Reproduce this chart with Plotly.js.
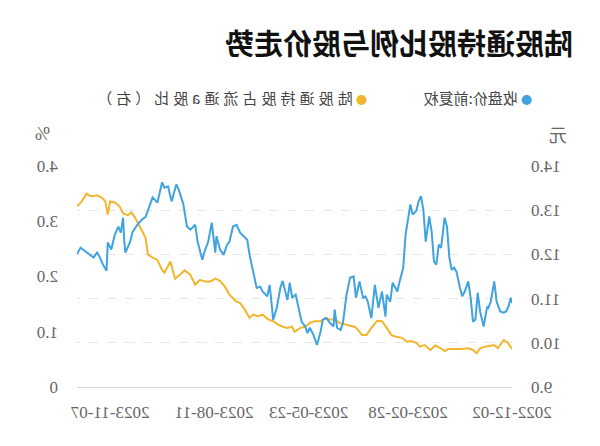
<!DOCTYPE html>
<html>
<head>
<meta charset="utf-8">
<script src="https://cdn.plot.ly/plotly-3.0.1.min.js"></script>
<style>
html,body{margin:0;padding:0;background:#fff;overflow:hidden;}
#chart{width:600px;height:446px;transform:scaleX(-1);transform-origin:50% 50%;}
</style>
</head>
<body>
<div id="chart"></div>
<script>
var titleText = '陆股通持股比例与股价走势';
var priceName = '收盘价:前复权';
var holdName = '陆股通持股占流通a股比（右）';
var priceUnit = '元';
var holdUnit = '%';

var tickDates = ['2022-12-02','2023-02-28','2023-05-23','2023-08-11','2023-11-07'];
var priceTicks = [9,10,11,12,13,14];
var priceTickText = ['9.0','10.0','11.0','12.0','13.0','14.0'];
var holdTicks = [0,1,2,3,4];
var holdTickText = ['0','1.0','2.0','3.0','4.0'];

var priceDates = ['2022-12-02','2022-12-03','2022-12-05','2022-12-07','2022-12-09','2022-12-12','2022-12-15','2022-12-17','2022-12-20','2022-12-22','2022-12-23','2022-12-26','2022-12-29','2022-12-31',
'2023-01-02','2023-01-04','2023-01-06','2023-01-08','2023-01-11','2023-01-13','2023-01-15','2023-01-18','2023-01-20','2023-01-22','2023-01-24','2023-01-26','2023-01-28','2023-01-31',
'2023-02-02','2023-02-04','2023-02-06','2023-02-08','2023-02-10','2023-02-13','2023-02-15','2023-02-17','2023-02-19','2023-02-21','2023-02-24','2023-02-26',
'2023-03-02','2023-03-04','2023-03-07','2023-03-09','2023-03-13','2023-03-15','2023-03-18','2023-03-19','2023-03-22','2023-03-25','2023-03-28','2023-03-31',
'2023-04-03','2023-04-05','2023-04-07','2023-04-10','2023-04-13','2023-04-15','2023-04-18','2023-04-21','2023-04-24','2023-04-26','2023-04-29',
'2023-05-01','2023-05-02','2023-05-05','2023-05-08','2023-05-11','2023-05-13','2023-05-16','2023-05-19','2023-05-22','2023-05-24','2023-05-26','2023-05-29',
'2023-06-01','2023-06-03','2023-06-06','2023-06-08','2023-06-10','2023-06-12','2023-06-14','2023-06-16','2023-06-19','2023-06-22','2023-06-25','2023-06-27',
'2023-07-01','2023-07-03','2023-07-06','2023-07-09','2023-07-12','2023-07-14','2023-07-18','2023-07-20','2023-07-23','2023-07-26','2023-07-29','2023-07-31',
'2023-08-03','2023-08-06','2023-08-09','2023-08-10','2023-08-13','2023-08-16','2023-08-19','2023-08-21','2023-08-25','2023-08-27','2023-08-31',
'2023-09-03','2023-09-06','2023-09-10','2023-09-12','2023-09-16','2023-09-19','2023-09-22','2023-09-24','2023-09-28',
'2023-10-02','2023-10-04','2023-10-08','2023-10-11','2023-10-15','2023-10-19','2023-10-21','2023-10-25','2023-10-26','2023-10-27','2023-10-29','2023-10-31',
'2023-11-03','2023-11-06','2023-11-09','2023-11-10','2023-11-13','2023-11-16','2023-11-18','2023-11-21','2023-11-24','2023-11-27','2023-11-30','2023-12-02','2023-12-05'];
var priceValues = [10.90,11.02,10.82,10.71,10.68,10.71,10.93,11.39,10.93,10.79,10.82,10.37,10.71,11.13,
10.52,10.48,11.02,11.39,11.16,11.05,11.24,11.61,11.70,11.65,11.93,12.63,12.83,12.15,
12.22,11.77,11.84,12.52,12.86,12.29,13.01,13.32,13.20,12.98,12.90,13.13,
12.45,11.70,11.39,11.16,11.36,10.93,11.09,10.59,11.16,10.79,11.31,10.56,
10.93,11.05,11.02,11.39,11.02,11.50,11.47,11.09,10.45,10.29,10.34,
10.75,10.37,10.45,10.56,10.52,10.25,9.95,10.18,10.34,10.22,10.37,10.48,
10.86,11.09,11.02,11.36,10.97,11.16,11.40,11.24,10.79,10.52,11.31,11.05,
11.16,11.27,11.24,11.61,11.99,12.33,12.45,12.49,12.67,12.63,12.29,12.22,
11.99,12.11,12.41,12.04,12.72,12.29,12.07,11.88,12.29,12.67,12.56,
12.63,13.13,13.47,13.58,13.20,13.54,13.51,13.63,13.17,
13.29,13.13,12.85,12.79,12.67,12.51,12.29,12.04,12.29,12.83,12.49,12.63,
12.45,12.11,12.27,11.63,11.77,11.95,12.04,11.93,11.99,12.06,12.11,12.15,12.01];

var holdDates = ['2022-12-02','2022-12-04','2022-12-06','2022-12-09','2022-12-11','2022-12-14','2022-12-17','2022-12-21','2022-12-25','2022-12-29',
'2023-01-01','2023-01-04','2023-01-08','2023-01-14','2023-01-19','2023-01-25','2023-01-28',
'2023-02-01','2023-02-05','2023-02-09','2023-02-14','2023-02-18','2023-02-21','2023-02-25',
'2023-03-01','2023-03-05','2023-03-10','2023-03-14','2023-03-18','2023-03-22','2023-03-26','2023-03-31',
'2023-04-04','2023-04-08','2023-04-11','2023-04-14','2023-04-18','2023-04-22','2023-04-27',
'2023-05-01','2023-05-05','2023-05-09','2023-05-13','2023-05-18','2023-05-22','2023-05-26','2023-05-30',
'2023-06-04','2023-06-06','2023-06-10','2023-06-14','2023-06-18','2023-06-22','2023-06-26',
'2023-07-01','2023-07-05','2023-07-09','2023-07-12','2023-07-16','2023-07-20','2023-07-24','2023-07-29',
'2023-08-02','2023-08-06','2023-08-10','2023-08-14','2023-08-19','2023-08-23','2023-08-27','2023-08-31',
'2023-09-05','2023-09-09','2023-09-13','2023-09-17','2023-09-22','2023-09-24','2023-09-28',
'2023-10-02','2023-10-06','2023-10-08','2023-10-13','2023-10-17','2023-10-20','2023-10-23','2023-10-27','2023-10-30',
'2023-11-03','2023-11-07','2023-11-09','2023-11-11','2023-11-14','2023-11-18','2023-11-23','2023-11-27','2023-12-01','2023-12-05'];
var holdValues = [0.69,0.76,0.81,0.85,0.79,0.70,0.76,0.75,0.73,0.70,
0.61,0.67,0.70,0.69,0.69,0.69,0.65,
0.71,0.75,0.67,0.76,0.73,0.80,0.83,
0.82,0.89,0.91,0.94,1.07,1.19,1.20,1.07,
0.94,0.94,1.03,1.09,1.11,1.13,1.16,
1.22,1.22,1.25,1.19,1.19,1.16,1.09,1.07,
1.00,1.09,1.07,1.09,1.13,1.19,1.22,
1.31,1.28,1.31,1.25,1.40,1.52,1.56,1.67,
1.82,1.92,1.96,1.91,1.91,1.94,1.85,2.03,
2.11,2.03,1.96,2.27,2.07,2.12,2.30,
2.34,2.40,2.70,2.91,3.07,3.16,3.11,3.14,3.27,
3.34,3.36,3.12,3.36,3.43,3.47,3.45,3.50,3.36,3.27];

var blue = '#3fa3df';
var yellow = '#f2b52c';
var tickFont = {family: 'Liberation Serif, serif', size: 17, color: '#666'};
var cjk = 'Noto Sans CJK SC, sans-serif';

var traces = [
  {x: holdDates, y: holdValues, yaxis: 'y', type: 'scatter', mode: 'lines', name: holdName,
   line: {color: yellow, width: 2}, showlegend: false, hoverinfo: 'skip'},
  {x: priceDates, y: priceValues, yaxis: 'y2', type: 'scatter', mode: 'lines', name: priceName,
   line: {color: blue, width: 2}, showlegend: false, hoverinfo: 'skip'}
];

var layout = {
  width: 600, height: 446,
  margin: {l: 88, r: 77, t: 166, b: 59},
  paper_bgcolor: '#fff', plot_bgcolor: '#fff',
  showlegend: false,
  title: {text: '<b>' + titleText + '</b>', xref: 'container', yref: 'container', x: 0.045, xanchor: 'left', y: 0.9, yanchor: 'middle',
          font: {family: cjk, size: 29, color: '#111'}},
  xaxis: {type: 'date', range: ['2022-12-02', '2023-12-05'], tickvals: tickDates, ticktext: tickDates,
          showgrid: false, zeroline: false, showline: true, linecolor: '#d9d9d9', linewidth: 1,
          ticks: '', ticklabelstandoff: 10, tickfont: tickFont, fixedrange: true},
  yaxis: {side: 'right', range: [0, 4], tickvals: holdTicks, ticktext: holdTickText, showgrid: false,
          zeroline: false, showline: false, ticks: '', ticklabelstandoff: 18, tickfont: tickFont, fixedrange: true},
  yaxis2: {side: 'left', overlaying: 'y', range: [9, 14], tickvals: priceTicks, ticktext: priceTickText,
           showgrid: true, gridcolor: '#e6e6e6', griddash: 'dash', gridwidth: 1,
           zeroline: false, showline: false, ticks: '', ticklabelstandoff: 18, tickfont: tickFont, fixedrange: true},
  annotations: [
    {text: priceUnit, xref: 'paper', yref: 'paper', x: -0.105, y: 1.143, xanchor: 'center', yanchor: 'middle', showarrow: false,
     font: {family: cjk, size: 18, color: '#666'}},
    {text: holdUnit, xref: 'paper', yref: 'paper', x: 1.08, y: 1.143, xanchor: 'center', yanchor: 'middle', showarrow: false,
     font: {family: 'Liberation Serif, serif', size: 18, color: '#666'}},
    {text: '<span style="color:' + blue + ';font-size:11px">●</span> ' + priceName, xref: 'paper', yref: 'paper', x: -0.051, y: 1.311,
     xanchor: 'left', yanchor: 'middle', showarrow: false, font: {family: cjk, size: 15, color: '#444'}},
    {text: '<span style="color:' + yellow + ';font-size:11px">●</span> <span style="letter-spacing:4px">' + holdName + '</span>', xref: 'paper', yref: 'paper', x: 0.329, y: 1.311,
     xanchor: 'left', yanchor: 'middle', showarrow: false, font: {family: cjk, size: 15, color: '#444'}}
  ]
};

Plotly.newPlot('chart', traces, layout, {displayModeBar: false, staticPlot: true});
</script>
</body>
</html>
